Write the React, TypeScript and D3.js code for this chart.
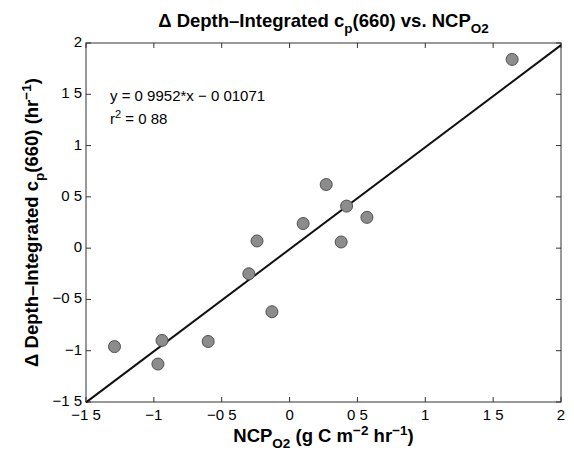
import React from "react";
import * as d3 from "d3";

const xValues = [-1.29, -0.97, -0.94, -0.6, -0.3, -0.24, -0.13, 0.1, 0.27, 0.38, 0.42, 0.57, 1.64];
const yValues = [-0.96, -1.13, -0.9, -0.91, -0.25, 0.07, -0.62, 0.24, 0.62, 0.06, 0.41, 0.3, 1.84];
const tickValues = [-1.5, -1, -0.5, 0, 0.5, 1, 1.5, 2];
const tickLabels = ["\u22121 5", "\u22121", "\u22120 5", "0", "0 5", "1", "1 5", "2"];
const fitSlope = 0.9952;
const fitIntercept = -0.01071;
const eqText = "y = 0 9952*x \u2212 0 01071";
const r2Text = "0 88";

const W = 574;
const H = 454;
const M = { left: 86, right: 561, top: 43, bottom: 402 };

export default function App() {
  const x = d3.scaleLinear().domain([-1.5, 2]).range([M.left, M.right]);
  const y = d3.scaleLinear().domain([-1.5, 2]).range([M.bottom, M.top]);
  const line = d3
    .line<number>()
    .x((d) => x(d))
    .y((d) => y(fitSlope * d + fitIntercept));
  const font = "'Liberation Sans', Arial, Helvetica, sans-serif";
  const tk = 5;
  const axisColor = "#333";
  const big = 18.5;
  const sub = 13.5;
  return (
    <svg
      width={W}
      height={H}
      style={{ position: "absolute", left: 0, top: 0, background: "#fff" }}
      fontFamily={font}
    >
      <rect x={0} y={0} width={W} height={H} fill="#fff" />
      <rect
        x={M.left}
        y={M.top}
        width={M.right - M.left}
        height={M.bottom - M.top}
        fill="none"
        stroke={axisColor}
        strokeWidth={1}
      />
      {tickValues.map((v, i) => (
        <g key={"x" + i}>
          <line x1={x(v)} x2={x(v)} y1={M.bottom} y2={M.bottom - tk} stroke={axisColor} />
          <line x1={x(v)} x2={x(v)} y1={M.top} y2={M.top + tk} stroke={axisColor} />
          <text x={x(v)} y={M.bottom + 18} textAnchor="middle" fontSize={15} fill="#000">
            {tickLabels[i]}
          </text>
        </g>
      ))}
      {tickValues.map((v, i) => (
        <g key={"y" + i}>
          <line x1={M.left} x2={M.left + tk} y1={y(v)} y2={y(v)} stroke={axisColor} />
          <line x1={M.right} x2={M.right - tk} y1={y(v)} y2={y(v)} stroke={axisColor} />
          <text x={M.left - 4} y={y(v) + 4} textAnchor="end" fontSize={15} fill="#000">
            {tickLabels[i]}
          </text>
        </g>
      ))}
      <path d={line([-1.5, 2]) || ""} fill="none" stroke="#111" strokeWidth={2} />
      {xValues.map((v, i) => (
        <circle
          key={"p" + i}
          cx={x(v)}
          cy={y(yValues[i])}
          r={6}
          fill="#8c8c8c"
          stroke="#505050"
          strokeWidth={1}
        />
      ))}
      <text x={110} y={101} fontSize={15} fill="#000">
        {eqText}
      </text>
      <text x={110} y={124} fontSize={15} fill="#000">
        r<tspan dy={-6} fontSize={11}>2</tspan>
        <tspan dy={6}>{" = " + r2Text}</tspan>
      </text>
      <text x={(M.left + M.right) / 2} y={27} textAnchor="middle" fontSize={big} fontWeight="bold" fill="#000">
        {"\u0394 Depth\u2013Integrated c"}
        <tspan dy={6} fontSize={sub}>p</tspan>
        <tspan dy={-6}>{"(660) vs. NCP"}</tspan>
        <tspan dy={6} fontSize={sub}>O2</tspan>
      </text>
      <text x={(M.left + M.right) / 2} y={442} textAnchor="middle" fontSize={big} fontWeight="bold" fill="#000">
        {"NCP"}
        <tspan dy={6} fontSize={sub}>O2</tspan>
        <tspan dy={-6}>{" (g C m"}</tspan>
        <tspan dy={-7} fontSize={sub}>{"\u22122"}</tspan>
        <tspan dy={7}>{" hr"}</tspan>
        <tspan dy={-7} fontSize={sub}>{"\u22121"}</tspan>
        <tspan dy={7}>{")"}</tspan>
      </text>
      <text
        transform={`translate(38, ${(M.top + M.bottom) / 2}) rotate(-90)`}
        textAnchor="middle"
        fontSize={big}
        fontWeight="bold"
        fill="#000"
      >
        {"\u0394 Depth\u2013Integrated c"}
        <tspan dy={6} fontSize={sub}>p</tspan>
        <tspan dy={-6}>{"(660) (hr"}</tspan>
        <tspan dy={-7} fontSize={sub}>{"\u22121"}</tspan>
        <tspan dy={7}>{")"}</tspan>
      </text>
    </svg>
  );
}
